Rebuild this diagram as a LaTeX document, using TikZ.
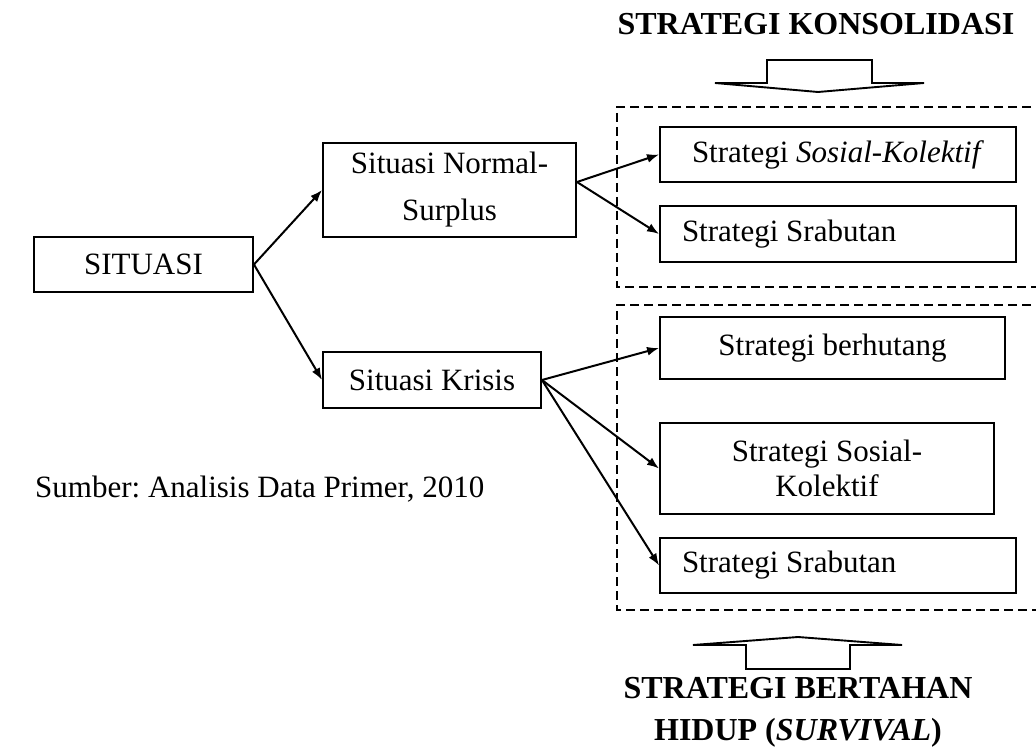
\documentclass[tikz,border=0pt]{standalone}
\usepackage{fontspec}
\setmainfont{Liberation Serif}
\usetikzlibrary{arrows.meta,calc}
\frenchspacing
\begin{document}
\begin{tikzpicture}[x=1pt,y=-1pt,
  box/.style={draw, line width=1.9pt, inner sep=0pt, font=\fontsize{31}{47}\selectfont, align=center},
  leftbox/.style={box, inner xsep=22pt},
  conn/.style={-{Latex[length=12pt,width=9pt]}, line width=2pt},
  dashbox/.style={line width=1.8pt, dash pattern=on 9pt off 5pt},
  bigarrow/.style={line width=1.9pt, line join=miter},
  title/.style={font=\bfseries\fontsize{32}{42}\selectfont, align=center, inner sep=0pt}]
\useasboundingbox (0,0) rectangle (1036,751);
\clip (0,0) rectangle (1036,751);

% title top
\node[title, anchor=base] (ttop) at (816,35) {STRATEGI KONSOLIDASI};
% top big arrow
\draw[bigarrow] (767,60) -- (872,60) -- (872,83) -- (924,83) -- (818,92) -- (715,83) -- (767,83) -- cycle;

% dashed groups
\draw[dashbox] (1045,107) -- (617,107) -- (617,287) -- (1045,287);
\draw[dashbox] (1045,305) -- (617,305) -- (617,610) -- (1045,610);

% nodes
\node[box, minimum width=219pt, minimum height=55pt] (sit) at (143.5,264.5) {SITUASI};
\node[box, minimum width=253pt, minimum height=94pt] (ns) at (449.5,190) {Situasi Normal-\\Surplus};
\node[box, minimum width=218pt, minimum height=56pt] (kr) at (432,380) {Situasi Krisis};

\node[box, minimum width=356pt, minimum height=55pt] (sk1) at (838,154.5) {Strategi \textit{Sosial-Kolektif}};
\node[leftbox, minimum height=56pt] (sr1) at (838,234) {\makebox[312pt][l]{Strategi Srabutan}};
\node[box, minimum width=345pt, minimum height=62pt] (bh) at (832.5,348) {Strategi berhutang};
\node[box, minimum width=334pt, minimum height=91pt, font=\fontsize{31}{35}\selectfont] (sk2) at (827,468.5) {Strategi Sosial-\\Kolektif};
\node[leftbox, minimum height=55pt] (sr2) at (838,565.5) {\makebox[312pt][l]{Strategi Srabutan}};

% source
\node[anchor=base west, inner sep=0pt, font=\fontsize{31}{36}\selectfont] (src) at (35,497) {Sumber: Analisis Data Primer, 2010};

% connectors
\draw[conn] (sit.east) -- (ns.west);
\draw[conn] (sit.east) -- (kr.west);
\draw[conn] ($(ns.east)+(0,-8)$) -- (sk1.west);
\draw[conn] ($(ns.east)+(0,-8)$) -- (sr1.west);
\draw[conn] (kr.east) -- (bh.west);
\draw[conn] (kr.east) -- (sk2.west);
\draw[conn] (kr.east) -- (sr2.west);

% bottom big arrow
\draw[bigarrow] (746,669) -- (850,669) -- (850,645) -- (902,645) -- (798,637) -- (693,645) -- (746,645) -- cycle;
% bottom title
\node[title] (tbot) at (798,712) {STRATEGI BERTAHAN\\HIDUP (\textit{SURVIVAL})};
\end{tikzpicture}
\end{document}
